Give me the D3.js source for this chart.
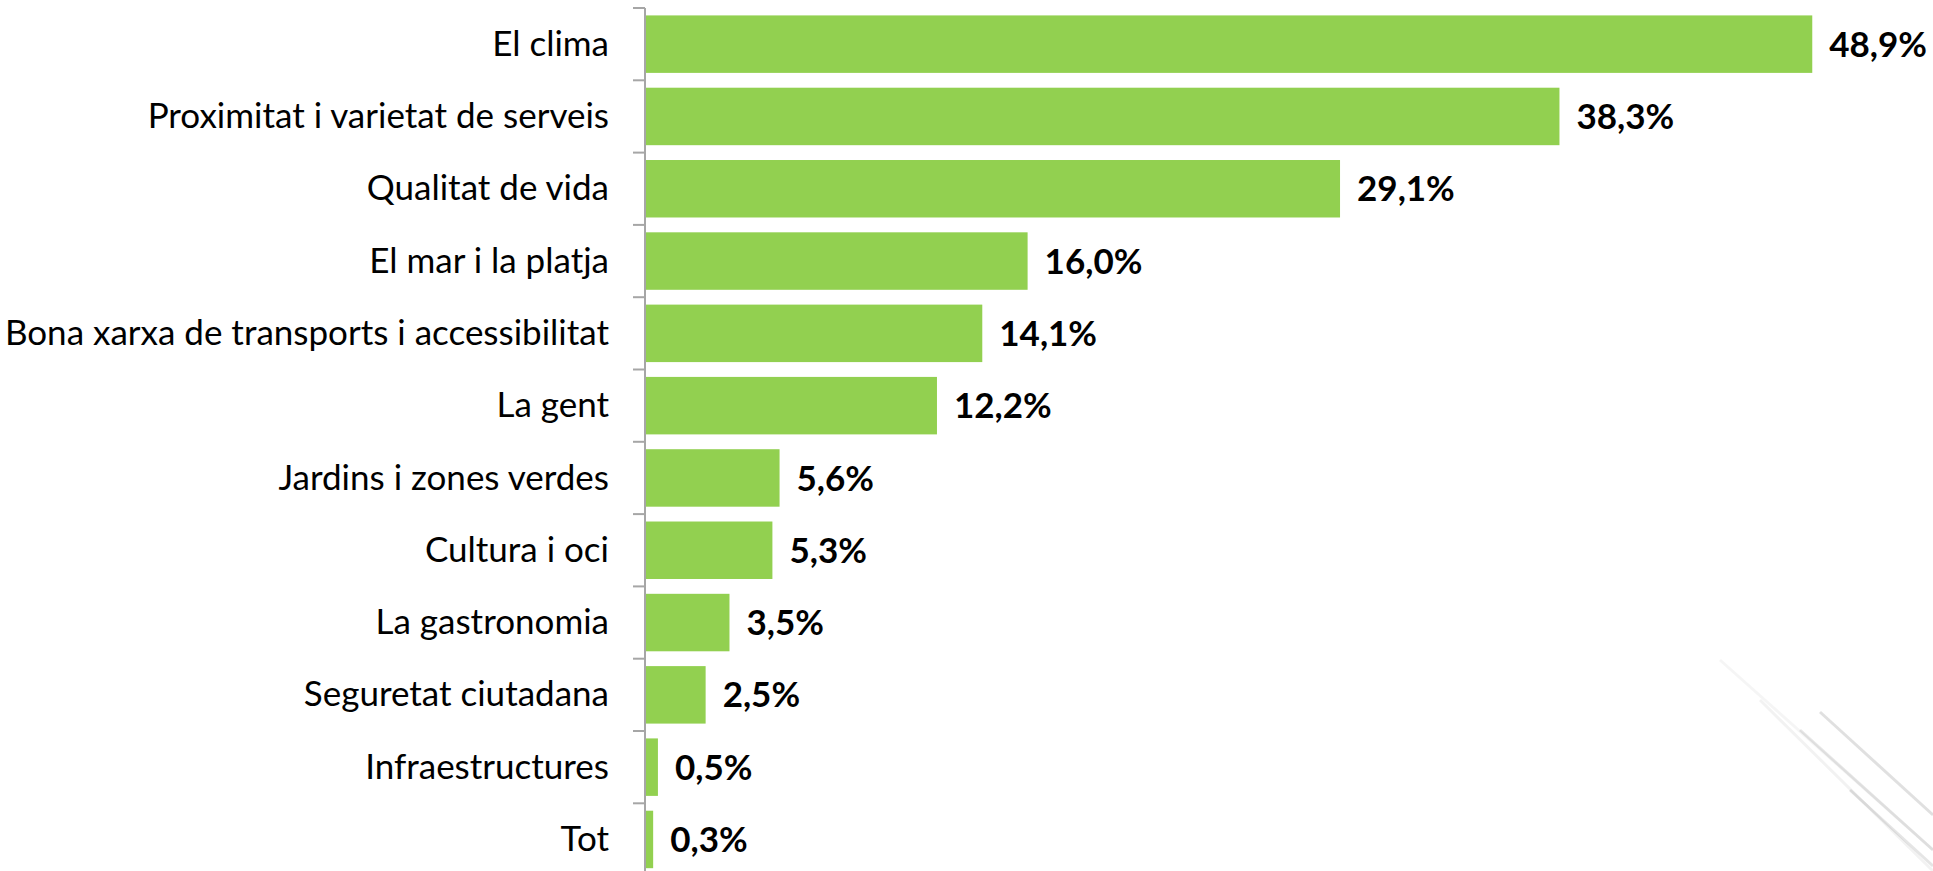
<!DOCTYPE html>
<html>
<head>
<meta charset="utf-8">
<script src="https://cdn.jsdelivr.net/npm/d3@7"></script>
<style>
  html, body { margin: 0; padding: 0; background: #fff; }
  svg { display: block; font-family: Lato, "Open Sans", sans-serif; }
</style>
</head>
<body>
<div id="chart"></div>
<script>
// motius per viure a la ciutat (%)
const categories = [
    "El clima",
    "Proximitat i varietat de serveis",
    "Qualitat de vida",
    "El mar i la platja",
    "Bona xarxa de transports i accessibilitat",
    "La gent",
    "Jardins i zones verdes",
    "Cultura i oci",
    "La gastronomia",
    "Seguretat ciutadana",
    "Infraestructures",
    "Tot"
];
const values = [48.9, 38.3, 29.1, 16.0, 14.1, 12.2, 5.6, 5.3, 3.5, 2.5, 0.5, 0.3];
const valueLabels = ["48,9%", "38,3%", "29,1%", "16,0%", "14,1%", "12,2%", "5,6%", "5,3%", "3,5%", "2,5%", "0,5%", "0,3%"];

const data = categories.map((c, i) => ({cat: c, value: values[i], label: valueLabels[i]}));

const width = 1933,
    height = 871,
    margin = ({top: 8, left: 645});
const step = 72.3;

let svg = d3.select("#chart")
    .append("svg")
    .attr("width", width)
    .attr("height", height)
    .attr("viewBox", [0, 0, width, height]);

// faint decorative strokes in the bottom right (background of the slide)
const deco = svg.append("g").attr("stroke", "#000").attr("fill", "none");
[[1720, 660, 1933, 850, 0.04], [1760, 700, 1933, 871, 0.05], [1820, 712, 1933, 815, 0.12],
 [1800, 730, 1933, 850, 0.09], [1850, 790, 1933, 866, 0.1]].forEach(l => {
    deco.append("line")
        .attr("x1", l[0]).attr("y1", l[1]).attr("x2", l[2]).attr("y2", l[3])
        .attr("stroke-width", 3).attr("stroke-opacity", l[4]);
});

const pad = 0.205;
const y = d3.scaleBand()
    .domain(categories)
    .range([margin.top, margin.top + step * categories.length])
    .paddingInner(pad)
    .paddingOuter(pad / 2);

const x = d3.scaleLinear()
    .domain([0, 50])
    .range([margin.left + 1, margin.left + 1 + 23.85 * 50]);

// bars
svg.append("g")
    .attr("fill", "#92d050")
    .selectAll("rect")
    .data(data)
    .join("rect")
    .attr("x", x(0))
    .attr("y", d => y(d.cat))
    .attr("width", d => x(d.value) - x(0))
    .attr("height", y.bandwidth());

// category axis, labels only
const yAxis = g => g
    .attr("transform", `translate(${margin.left},0)`)
    .call(d3.axisLeft(y).tickSize(0).tickPadding(36))
    .call(g => g.select(".domain").remove())
    .call(g => g.selectAll("text")
        .attr("font-family", "Lato, 'Open Sans', sans-serif")
        .attr("font-size", 35)
        .attr("fill", "#000")
        .attr("dy", "0.33em"));

svg.append("g").call(yAxis);

// axis line with ticks on the band boundaries
const bounds = categories.map(c => y(c) - y.step() * pad / 2);
const axis = svg.append("g").attr("stroke", "#a6a6a6").attr("stroke-width", 2);
axis.append("line")
    .attr("x1", margin.left).attr("x2", margin.left)
    .attr("y1", bounds[0]).attr("y2", height);
axis.selectAll(".tk")
    .data(bounds)
    .join("line")
    .attr("class", "tk")
    .attr("x1", margin.left - 12).attr("x2", margin.left)
    .attr("y1", d => d).attr("y2", d => d);

// value labels
svg.append("g")
    .selectAll("text")
    .data(data)
    .join("text")
    .attr("x", d => x(d.value) + 17)
    .attr("y", d => y(d.cat) + y.bandwidth() / 2)
    .attr("dy", "0.36em")
    .attr("font-size", 35)
    .attr("font-weight", "bold")
    .attr("fill", "#000")
    .text(d => d.label);
</script>
</body>
</html>
